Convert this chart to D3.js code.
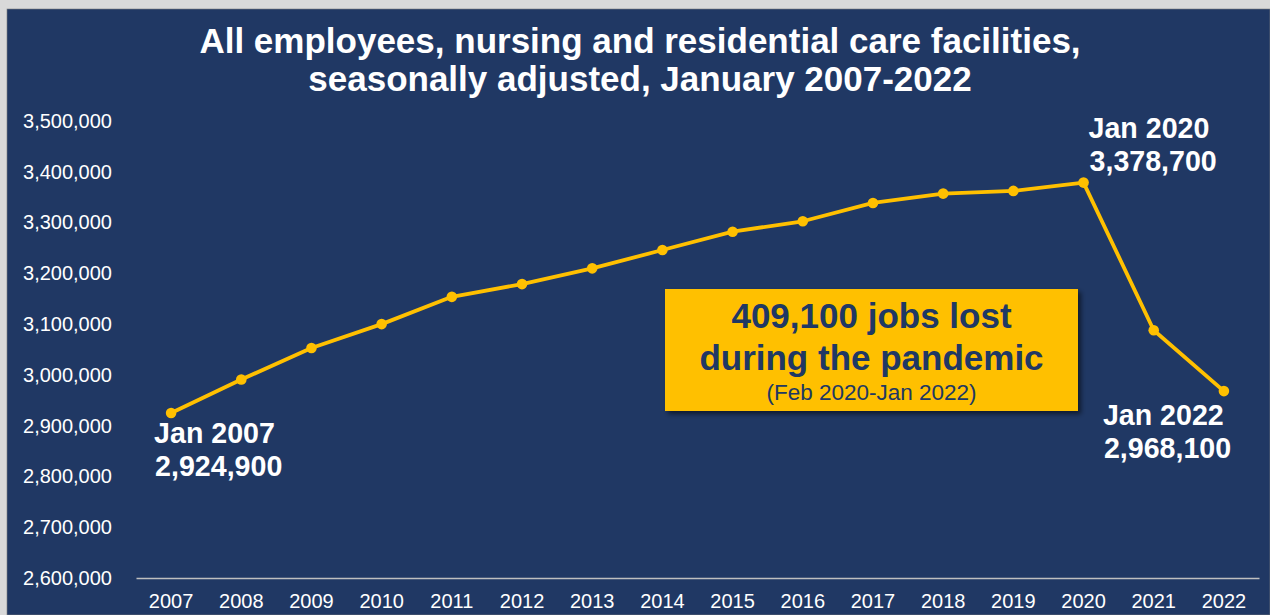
<!DOCTYPE html>
<html>
<head>
<meta charset="utf-8">
<script src="https://cdn.jsdelivr.net/npm/d3@7"></script>
<style>
  body { margin: 0; background: #d9d9d9; }
  svg { display: block; font-family: "Liberation Sans", Arial, sans-serif; }
</style>
</head>
<body>
<script>
// data, January of each year
var years = ["2007", "2008", "2009", "2010", "2011", "2012", "2013", "2014",
             "2015", "2016", "2017", "2018", "2019", "2020", "2021", "2022"];
var employees = [2924900, 2990800, 3053100, 3100000, 3153700, 3178800, 3209800, 3245900,
                 3282000, 3302500, 3338600, 3357000, 3362300, 3378700, 3088000, 2968100];
var yTicks = [2600000, 2700000, 2800000, 2900000, 3000000, 3100000,
              3200000, 3300000, 3400000, 3500000];
var titleLines = ["All employees, nursing and residential care facilities,",
                  "seasonally adjusted, January 2007-2022"];
var callouts = [
  {year: "2007", lines: ["Jan 2007", "2,924,900"], dx: -17, dy: 30},
  {year: "2020", lines: ["Jan 2020", "3,378,700"], dx: 5, dy: -45},
  {year: "2022", lines: ["Jan 2022", "2,968,100"], dx: -121, dy: 34}
];
var boxLines = ["409,100 jobs lost", "during the pandemic", "(Feb 2020-Jan 2022)"];

var W = 1270, H = 615;
var navy = "#203864", gold = "#ffc000";

var svg = d3.select("body").append("svg")
    .attr("width", W)
    .attr("height", H);

// dark panel on the grey page
svg.append("rect")
    .attr("x", 7).attr("y", 9)
    .attr("width", W - 7).attr("height", H - 9)
    .attr("fill", navy)
    .attr("stroke", "#7f7f7f").attr("stroke-width", 0.6);

// scales
var x = d3.scaleBand()
    .domain(years)
    .range([136, 1259])
    .padding(0);
var y = d3.scaleLinear()
    .domain([2600000, 3500000])
    .range([578, 121]);

function px(d) { return x(d) + x.bandwidth() / 2; }

// title
svg.append("text")
    .attr("x", 640)
    .attr("text-anchor", "middle")
    .attr("fill", "white")
    .style("font-size", "35px")
    .style("font-weight", "bold")
  .selectAll("tspan")
    .data(titleLines)
  .enter().append("tspan")
    .attr("x", 640)
    .attr("y", function(d, i) { return 53 + i * 38; })
    .text(function(d) { return d; });

// y axis, labels only
var yAxis = svg.append("g")
    .attr("transform", "translate(136,0)")
    .call(d3.axisLeft(y).tickValues(yTicks).tickFormat(d3.format(",")).tickSize(0).tickPadding(24));
yAxis.select(".domain").remove();
yAxis.selectAll("text")
    .attr("fill", "white")
    .style("font-size", "20px")
    .style("font-family", "'Liberation Sans', Arial, sans-serif");

// x axis
var xAxis = svg.append("g")
    .attr("transform", "translate(0," + y(2600000) + ")")
    .call(d3.axisBottom(x).tickSize(0).tickPadding(16));
xAxis.select(".domain")
    .attr("stroke", "#bfbfbf")
    .attr("stroke-width", 1.6);
xAxis.selectAll("text")
    .attr("fill", "white")
    .style("font-size", "20px")
    .style("font-family", "'Liberation Sans', Arial, sans-serif");

// line and markers
var series = years.map(function(d, i) { return {year: d, value: employees[i]}; });

var line = d3.line()
    .x(function(d) { return px(d.year); })
    .y(function(d) { return y(d.value); });

svg.append("path")
    .datum(series)
    .attr("d", line)
    .attr("fill", "none")
    .attr("stroke", gold)
    .attr("stroke-width", 3.8)
    .attr("stroke-linejoin", "round");

svg.selectAll(".dot")
    .data(series)
  .enter().append("circle")
    .attr("class", "dot")
    .attr("cx", function(d) { return px(d.year); })
    .attr("cy", function(d) { return y(d.value); })
    .attr("r", 5.3)
    .attr("fill", gold);

// point callouts
callouts.forEach(function(c) {
  var i = years.indexOf(c.year);
  var t = svg.append("text")
      .attr("fill", "white")
      .style("font-size", "28.6px")
      .style("font-weight", "bold");
  c.lines.forEach(function(s, k) {
    t.append("tspan")
        .attr("x", px(c.year) + c.dx + (k ? 1 : 0))
        .attr("y", y(employees[i]) + c.dy + k * 33)
        .text(s);
  });
});

// pandemic box
var defs = svg.append("defs");
var f = defs.append("filter").attr("id", "shadow")
    .attr("x", "-10%").attr("y", "-10%").attr("width", "130%").attr("height", "140%");
f.append("feDropShadow")
    .attr("dx", 3).attr("dy", 3).attr("stdDeviation", 2.5)
    .attr("flood-color", "#000").attr("flood-opacity", 0.55);

var box = {x: 665, y: 289, w: 413, h: 122};
svg.append("rect")
    .attr("x", box.x).attr("y", box.y)
    .attr("width", box.w).attr("height", box.h)
    .attr("fill", gold)
    .attr("filter", "url(#shadow)");

var bt = svg.append("text")
    .attr("text-anchor", "middle")
    .attr("fill", navy);
bt.append("tspan").attr("x", box.x + box.w / 2).attr("y", 328)
    .style("font-size", "35px").style("font-weight", "bold").text(boxLines[0]);
bt.append("tspan").attr("x", box.x + box.w / 2).attr("y", 370)
    .style("font-size", "35px").style("font-weight", "bold").text(boxLines[1]);
bt.append("tspan").attr("x", box.x + box.w / 2).attr("y", 400)
    .style("font-size", "22.5px").text(boxLines[2]);
</script>
</body>
</html>
